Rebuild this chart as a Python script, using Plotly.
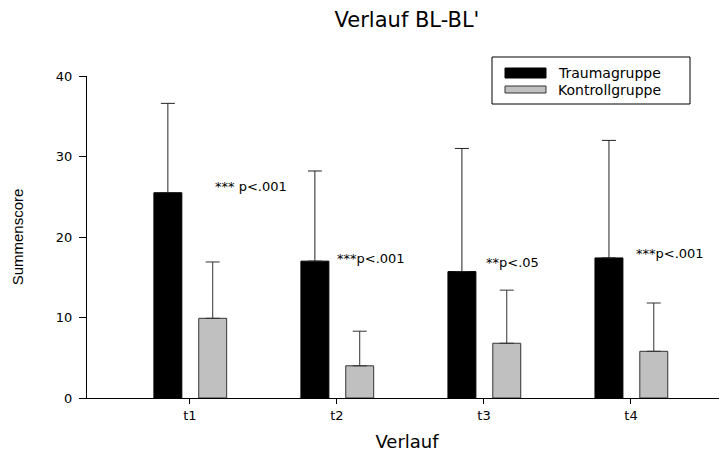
import plotly.graph_objects as go

categories = ["t1", "t2", "t3", "t4"]
trauma_mean = [25.5, 17.0, 15.7, 17.4]
trauma_sd = [11.1, 11.2, 15.3, 14.6]
kontroll_mean = [9.9, 4.0, 6.8, 5.8]
kontroll_sd = [7.0, 4.3, 6.6, 6.0]

sig_text = ["*** p<.001", "***p<.001", "**p<.05", "***p<.001"]
sig_xoff = [0.16, -0.01, 0.0, 0.02]
sig_y = [26.3, 17.3, 16.8, 18.0]

FONT = "DejaVu Sans"
xpos = list(range(len(categories)))

# page body has an 8px margin; compensate so the chart lands at the reference spot
OFF = 8
W, H = 727 - OFF, 453 - OFF
ml, mr, mt, mb = 87 - OFF, 0, 76 - OFF, 55
pw, ph = W - ml - mr, H - mt - mb


def px(x):  # page x -> paper
    return (x - OFF - ml) / pw


def py(y):  # page y -> paper
    return (H - mb - (y - OFF)) / ph


fig = go.Figure()
fig.add_trace(go.Bar(
    x=xpos, y=trauma_mean, name="Traumagruppe",
    width=0.19, offset=-0.245,
    marker=dict(color="#000000", line=dict(color="#000000", width=1)),
    error_y=dict(type="data", array=trauma_sd, symmetric=False,
                 arrayminus=[0] * 4, color="#222222", thickness=1, width=7),
    showlegend=False,
))
fig.add_trace(go.Bar(
    x=xpos, y=kontroll_mean, name="Kontrollgruppe",
    width=0.19, offset=0.06,
    marker=dict(color="#c0c0c0", line=dict(color="#333333", width=1)),
    error_y=dict(type="data", array=kontroll_sd, symmetric=False,
                 arrayminus=[0] * 4, color="#333333", thickness=1, width=7),
    showlegend=False,
))

for i, (t, dx, yv) in enumerate(zip(sig_text, sig_xoff, sig_y)):
    fig.add_annotation(x=i + dx, y=yv, text=t, showarrow=False,
                       xanchor="left", yanchor="middle",
                       font=dict(family=FONT, size=13, color="#000"))

# manual legend (paper coordinates)
fig.add_shape(type="rect", xref="paper", yref="paper",
              x0=px(492), x1=px(690), y0=py(104), y1=py(57),
              line=dict(color="#000", width=1), fillcolor="white")
fig.add_shape(type="rect", xref="paper", yref="paper",
              x0=px(505), x1=px(546), y0=py(78), y1=py(68),
              line=dict(color="#000", width=1), fillcolor="#000")
fig.add_shape(type="rect", xref="paper", yref="paper",
              x0=px(505), x1=px(546), y0=py(93), y1=py(86),
              line=dict(color="#333", width=1), fillcolor="#c0c0c0")
for name, yy in [("Traumagruppe", 73), ("Kontrollgruppe", 89.5)]:
    fig.add_annotation(xref="paper", yref="paper", x=px(556), y=py(yy),
                       text=name, showarrow=False, xanchor="left",
                       yanchor="middle",
                       font=dict(family=FONT, size=14, color="#000"))

fig.update_layout(
    width=W, height=H,
    margin=dict(l=ml, r=mr, t=mt, b=mb),
    paper_bgcolor="white", plot_bgcolor="white",
    title=dict(text="Verlauf BL-BL'", x=(ml + pw / 2) / W, xanchor="center",
               y=1 - (20 - OFF) / H, yanchor="middle",
               font=dict(family=FONT, size=21, color="#000")),
    font=dict(family=FONT, color="#000"),
    barmode="overlay",
)
fig.update_xaxes(
    range=[-0.70, 3.653], tickmode="array", tickvals=xpos, ticktext=categories,
    showline=True, linecolor="#000", linewidth=1, ticks="outside", ticklen=5,
    tickcolor="#000", showgrid=False, zeroline=False,
    tickfont=dict(family=FONT, size=13, color="#000"),
    title=dict(text="Verlauf", font=dict(family=FONT, size=18, color="#000"),
               standoff=13),
)
fig.update_yaxes(
    range=[0, 40], tickvals=[0, 10, 20, 30, 40],
    showline=True, linecolor="#000", linewidth=1, ticks="outside", ticklen=7,
    tickcolor="#000", showgrid=False, zeroline=False, ticklabelstandoff=4,
    tickfont=dict(family=FONT, size=13, color="#000"),
    title=dict(text="Summenscore", font=dict(family="Liberation Sans", size=15, color="#000"),
               standoff=28),
)

fig.write_html("out.html")
